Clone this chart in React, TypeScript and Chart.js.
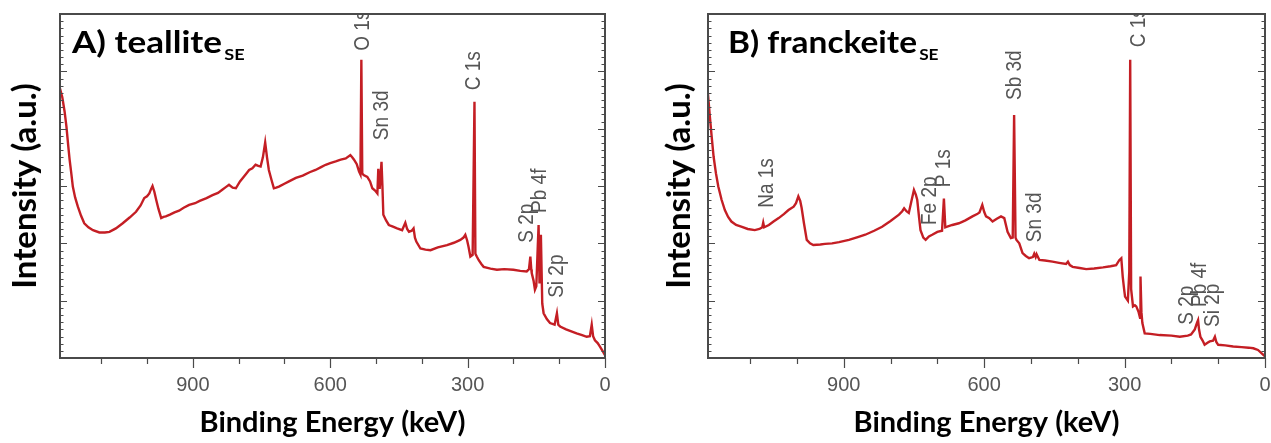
import React, { useEffect, useRef } from 'react';
import { Chart, registerables } from 'chart.js';

Chart.register(...registerables);

// ---------- DATA ----------
// Panel A: teallite (binding energy, intensity a.u.)
const energyA = [
  1190, 1185, 1180, 1176, 1172, 1169, 1165, 1162, 1157, 1151, 1144, 1137, 1128, 1118, 1104, 1092, 1082, 1068, 1053, 1038,
  1024, 1014, 1006, 1000, 995, 991, 988, 984, 980, 975, 969, 964, 959, 950, 940, 930, 920, 908, 895, 885,
  870, 857, 845, 835, 828, 821, 813, 806, 797, 790, 783, 777, 770, 763, 757, 752, 747, 742, 738, 734,
  728, 723, 718, 712, 700, 690, 675, 660, 645, 632, 620, 610, 600, 588, 577, 566, 556, 552, 548, 542,
  537, 534, 532, 530, 527, 519, 513, 508, 502, 497, 495, 492, 488, 486, 484, 478, 472, 463, 454, 443,
  436, 432, 428, 422, 418, 415, 412, 403, 392, 381, 365, 345, 330, 316, 309, 305, 301, 298, 294, 289,
  285, 283, 280, 276, 270, 265, 250, 236, 220, 200, 185, 171, 166, 163, 161, 160, 156, 153, 150, 147,
  145, 143, 140, 137, 134, 127, 120, 110, 105, 102, 98, 85, 75, 62, 50, 40, 33, 29, 26, 22,
  16, 11, 5, 0,
];
const intensityA = [
  4.70, 4.55, 4.30, 4.04, 3.70, 3.46, 3.20, 2.99, 2.80, 2.64, 2.48, 2.35, 2.28, 2.23, 2.19, 2.19, 2.20, 2.26, 2.35, 2.45,
  2.55, 2.66, 2.79, 2.82, 2.87, 2.95, 3.00, 2.90, 2.76, 2.60, 2.44, 2.46, 2.47, 2.50, 2.54, 2.57, 2.62, 2.67, 2.70, 2.74,
  2.79, 2.84, 2.88, 2.94, 2.98, 3.02, 2.97, 2.96, 3.08, 3.15, 3.22, 3.28, 3.31, 3.37, 3.35, 3.34, 3.50, 3.76, 3.50, 3.28,
  3.10, 2.96, 2.97, 2.99, 3.04, 3.08, 3.14, 3.18, 3.24, 3.28, 3.33, 3.37, 3.40, 3.43, 3.46, 3.48, 3.54, 3.50, 3.46, 3.38,
  3.25, 3.20, 5.20, 3.22, 3.19, 3.16, 3.08, 2.96, 2.92, 2.87, 3.30, 2.95, 3.42, 3.00, 2.50, 2.40, 2.32, 2.29, 2.26, 2.23,
  2.36, 2.25, 2.20, 2.22, 2.26, 2.10, 2.03, 1.91, 1.89, 1.88, 1.93, 1.97, 2.01, 2.06, 2.10, 2.15, 2.05, 1.94, 1.77, 1.80,
  4.47, 1.82, 1.77, 1.71, 1.64, 1.59, 1.56, 1.54, 1.55, 1.54, 1.52, 1.51, 1.55, 1.77, 1.55, 1.48, 1.35, 1.19, 1.25, 1.90,
  2.32, 1.30, 2.15, 0.95, 0.78, 0.68, 0.61, 0.58, 0.78, 0.58, 0.55, 0.50, 0.47, 0.43, 0.40, 0.37, 0.38, 0.58, 0.38, 0.31,
  0.26, 0.20, 0.12, 0.05,
];

// Panel B: franckeite
const energyB = [
  1192, 1189, 1186, 1182, 1178, 1173, 1168, 1161, 1154, 1147, 1140, 1130, 1119, 1105, 1090, 1080, 1074, 1072, 1070, 1060,
  1050, 1039, 1028, 1018, 1007, 1002, 997, 993, 990, 985, 979, 972, 965, 950, 940, 925, 910, 889, 870, 854,
  835, 818, 800, 782, 775, 771, 766, 761, 755, 750, 746, 743, 739, 736, 730, 725, 718, 711, 700, 690,
  686, 683, 679, 668, 654, 640, 625, 615, 610, 604, 600, 596, 589, 582, 573, 564, 557, 550, 543, 539,
  536, 533, 531, 525, 518, 511, 504, 496, 493, 490, 488, 482, 470, 454, 440, 425, 421, 417, 411, 396,
  382, 365, 346, 330, 318, 311, 307, 304, 301, 299, 293, 290, 288, 286, 282, 278, 275, 270, 267, 266,
  264, 262, 257, 245, 225, 200, 182, 165, 158, 150, 145, 143, 141, 138, 133, 129, 122, 118, 111, 107,
  104, 100, 85, 68, 50, 35, 25, 15, 7, 0,
];
const intensityB = [
  4.78, 4.50, 4.21, 3.85, 3.51, 3.22, 2.99, 2.76, 2.58, 2.46, 2.38, 2.32, 2.29, 2.25, 2.23, 2.25, 2.28, 2.36, 2.28, 2.32,
  2.38, 2.44, 2.51, 2.58, 2.64, 2.70, 2.82, 2.74, 2.62, 2.35, 2.06, 2.00, 1.97, 1.98, 1.99, 2.00, 2.02, 2.06, 2.11, 2.15,
  2.22, 2.29, 2.39, 2.50, 2.56, 2.61, 2.56, 2.53, 2.75, 2.93, 2.85, 2.76, 2.45, 2.23, 2.10, 2.06, 2.12, 2.15, 2.20, 2.22,
  2.78, 2.28, 2.29, 2.32, 2.35, 2.40, 2.47, 2.51, 2.54, 2.67, 2.55, 2.47, 2.44, 2.38, 2.43, 2.47, 2.44, 2.20, 2.09, 2.10,
  4.24, 2.10, 2.06, 2.00, 1.83, 1.78, 1.74, 1.76, 1.82, 1.76, 1.81, 1.71, 1.70, 1.68, 1.66, 1.64, 1.68, 1.62, 1.59, 1.57,
  1.55, 1.56, 1.58, 1.60, 1.62, 1.71, 1.74, 1.42, 1.20, 1.07, 1.00, 1.50, 5.20, 1.20, 0.90, 0.92, 0.90, 0.80, 0.70, 1.42,
  0.80, 0.61, 0.43, 0.42, 0.40, 0.39, 0.37, 0.39, 0.41, 0.50, 0.62, 0.66, 0.50, 0.37, 0.30, 0.23, 0.27, 0.29, 0.30, 0.37,
  0.28, 0.23, 0.22, 0.20, 0.19, 0.18, 0.17, 0.14, 0.08, 0.03,
];

// Axis tick labels (binding energy)
const tickValues = [0, 300, 600, 900];
const tickLabels = ['0', '300', '600', '900'];

// Peak annotations
const peakLabelsA = ['O 1s', 'Sn 3d', 'C 1s', 'S 2p', 'Pb 4f', 'Si 2p'];
const peakEnergyA = [529, 486, 287, 170, 142, 105];
const peakLevelA = [5.36, 3.8, 4.67, 2.01, 2.53, 1.05];

const peakLabelsB = ['Na 1s', 'Fe 2p', 'P 1s', 'Sb 3d', 'Sn 3d', 'C 1s', 'S 2p', 'Pb 4f', 'Si 2p'];
const peakEnergyB = [1064, 715, 685, 535, 492, 270, 167, 139, 111];
const peakLevelB = [2.62, 2.32, 2.98, 4.5, 2.02, 5.42, 0.58, 0.89, 0.54];

// ---------- STYLE ----------
const BOLD_FONT = 'Lato, "Open Sans", sans-serif';
const PLOT_FONT = '"Liberation Sans", Arial, sans-serif';
const LINE_COLOR = '#c41e24';
const FRAME_COLOR = '#4a4a4a';
const LABEL_GRAY = '#555555';

const framePlugin = {
  id: 'frameTicks',
  afterDraw(chart: any) {
    const { ctx, chartArea, scales } = chart;
    const { left, right, top, bottom } = chartArea;
    const x = scales.x;
    const y = scales.y;
    ctx.save();
    ctx.strokeStyle = FRAME_COLOR;
    ctx.lineWidth = 1.2;
    ctx.beginPath();
    for (let i = 0; i <= 48; i++) {
      const v = i / 8;
      const py = Math.round(y.getPixelForValue(v)) + 0.5;
      const len = i % 8 === 0 ? 7 : 3.5;
      ctx.moveTo(left, py);
      ctx.lineTo(left + len, py);
      ctx.moveTo(right, py);
      ctx.lineTo(right - len, py);
    }
    for (let e = 0; e <= 1100; e += 100) {
      const px = Math.round(x.getPixelForValue(e)) + 0.5;
      const len = e % 300 === 0 ? 10 : 6;
      ctx.moveTo(px, bottom);
      ctx.lineTo(px, bottom + len);
    }
    ctx.stroke();
    ctx.lineWidth = 2;
    ctx.strokeRect(left, top, right - left, bottom - top);
    ctx.restore();
  },
};

const peakPlugin = {
  id: 'peakLabels',
  afterDatasetsDraw(chart: any, _args: any, opts: any) {
    const { ctx, chartArea, scales } = chart;
    ctx.save();
    ctx.beginPath();
    ctx.rect(chartArea.left, chartArea.top, chartArea.right - chartArea.left, chartArea.bottom - chartArea.top);
    ctx.clip();
    ctx.fillStyle = LABEL_GRAY;
    ctx.font = `19px ${PLOT_FONT}`;
    ctx.textAlign = 'left';
    ctx.textBaseline = 'middle';
    opts.texts.forEach((t: string, i: number) => {
      const px = scales.x.getPixelForValue(opts.energies[i]);
      const py = scales.y.getPixelForValue(opts.levels[i]);
      ctx.save();
      ctx.translate(px, py);
      ctx.rotate(-Math.PI / 2);
      ctx.scale(1, 1.15);
      ctx.fillText(t, 0, 0);
      ctx.restore();
    });
    ctx.restore();
  },
};

const panelTitlePlugin = {
  id: 'panelTitle',
  afterDraw(chart: any, _args: any, opts: any) {
    const { ctx } = chart;
    ctx.save();
    ctx.fillStyle = '#000';
    ctx.textBaseline = 'alphabetic';
    ctx.textAlign = 'left';
    ctx.font = `bold 31px ${BOLD_FONT}`;
    const w = ctx.measureText(opts.main).width;
    const sx = Math.max(0.85, Math.min(1.3, opts.width / w));
    ctx.translate(opts.x, opts.baseline);
    ctx.scale(sx, 1);
    ctx.fillText(opts.main, 0, 0);
    ctx.font = `bold 16px ${BOLD_FONT}`;
    ctx.fillText(opts.sub, w + 2, 7);
    ctx.restore();
  },
};

function makeConfig(
  energy: number[],
  intensity: number[],
  peaks: { texts: string[]; energies: number[]; levels: number[] },
  title: { main: string; sub: string; x: number; baseline: number; width: number },
  layoutPad: { top: number; right: number; left: number; bottom: number },
  yAxisWidth: number,
  yTitlePad: number
): any {
  return {
    type: 'line',
    data: {
      datasets: [
        {
          data: energy.map((e, i) => ({ x: e, y: intensity[i] })),
          borderColor: LINE_COLOR,
          borderWidth: 2.4,
          pointRadius: 0,
          tension: 0,
          fill: false,
        },
      ],
    },
    options: {
      animation: false,
      responsive: false,
      maintainAspectRatio: false,
      layout: { padding: layoutPad },
      plugins: {
        legend: { display: false },
        tooltip: { enabled: false },
        peakLabels: peaks,
        panelTitle: title,
      },
      scales: {
        x: {
          type: 'linear',
          reverse: true,
          min: 0,
          max: 1190,
          grid: { display: false, drawTicks: false },
          border: { display: false },
          afterBuildTicks: (s: any) => {
            s.ticks = tickValues.map((v) => ({ value: v }));
          },
          afterFit: (s: any) => {
            s.height = 85;
            s.paddingLeft = 0;
            s.paddingRight = 0;
          },
          ticks: {
            autoSkip: false,
            maxRotation: 0,
            padding: 15,
            color: LABEL_GRAY,
            font: { family: PLOT_FONT, size: 20 },
            callback: (v: number) => {
              const i = tickValues.indexOf(Number(v));
              return i >= 0 ? tickLabels[i] : '';
            },
          },
          title: {
            display: true,
            text: 'Binding Energy (keV)',
            color: '#000',
            font: { family: BOLD_FONT, size: 29, weight: 'bold' },
            padding: { top: 0, bottom: 3 },
          },
        },
        y: {
          type: 'linear',
          min: 0,
          max: 6,
          grid: { display: false, drawTicks: false },
          border: { display: false },
          ticks: { display: false },
          afterFit: (s: any) => {
            s.width = yAxisWidth;
            s.paddingTop = 0;
            s.paddingBottom = 0;
          },
          title: {
            display: true,
            text: 'Intensity (a.u.)',
            color: '#000',
            font: { family: BOLD_FONT, size: 33, weight: 'bold' },
            padding: { top: yTitlePad, bottom: 0 },
          },
        },
      },
    },
    plugins: [framePlugin, peakPlugin, panelTitlePlugin],
  };
}

export default function App() {
  const refA = useRef<HTMLCanvasElement | null>(null);
  const refB = useRef<HTMLCanvasElement | null>(null);

  useEffect(() => {
    const chartA = new Chart(
      refA.current as HTMLCanvasElement,
      makeConfig(
        energyA,
        intensityA,
        { texts: peakLabelsA, energies: peakEnergyA, levels: peakLevelA },
        { main: 'A) teallite', sub: 'SE', x: 72, baseline: 53, width: 150 },
        { top: 14, right: 35, left: 0, bottom: 0 },
        60,
        6
      )
    );
    const chartB = new Chart(
      refB.current as HTMLCanvasElement,
      makeConfig(
        energyB,
        intensityB,
        { texts: peakLabelsB, energies: peakEnergyB, levels: peakLevelB },
        { main: 'B) franckeite', sub: 'SE', x: 88, baseline: 53, width: 189 },
        { top: 14, right: 6, left: 0, bottom: 0 },
        68,
        20
      )
    );
    return () => {
      chartA.destroy();
      chartB.destroy();
    };
  }, []);

  return (
    <div style={{ position: 'fixed', left: 0, top: 0, width: 1271, height: 443, background: '#fff' }}>
      <canvas
        ref={refA}
        width={640}
        height={443}
        style={{ position: 'absolute', left: 0, top: 0, width: 640, height: 443 }}
      />
      <canvas
        ref={refB}
        width={631}
        height={443}
        style={{ position: 'absolute', left: 640, top: 0, width: 631, height: 443 }}
      />
    </div>
  );
}
